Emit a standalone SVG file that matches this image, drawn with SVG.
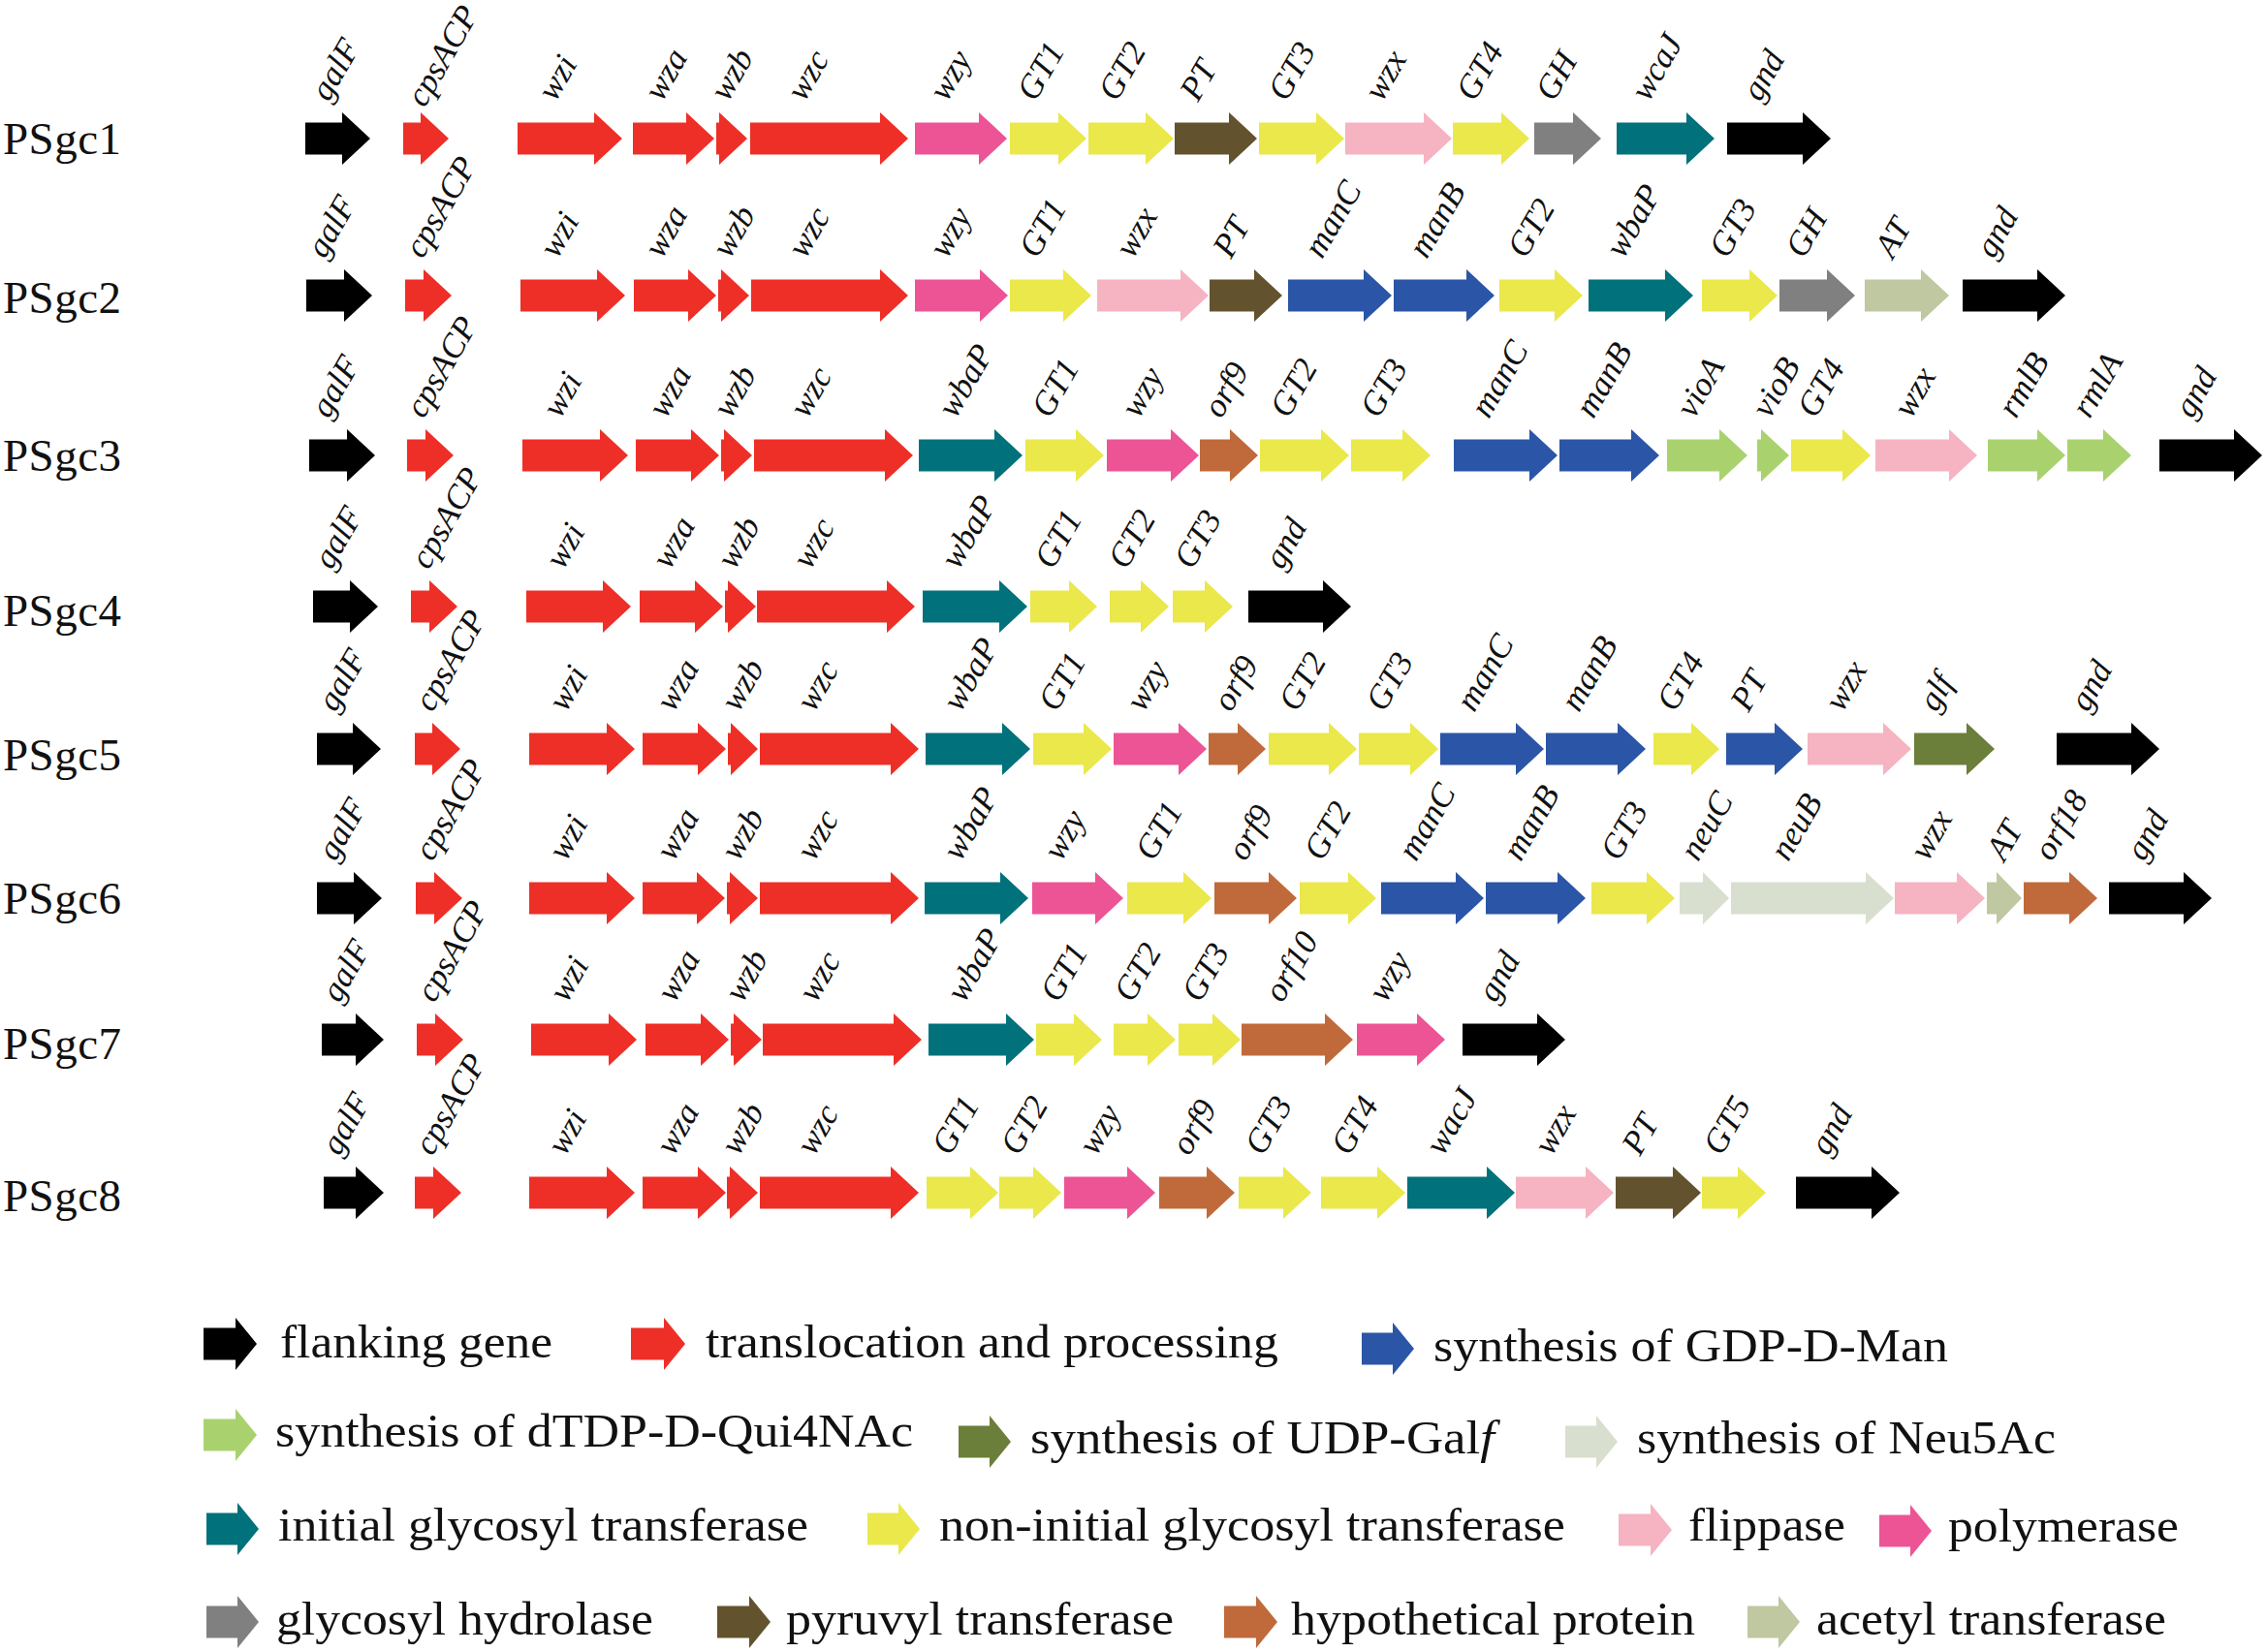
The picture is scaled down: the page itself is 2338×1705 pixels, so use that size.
<svg xmlns="http://www.w3.org/2000/svg" width="2338" height="1705" viewBox="0 0 2338 1705">
<style>
text{font-family:"Liberation Serif","Times New Roman",serif;fill:#111}
.gl{font-style:italic;font-size:35px}
.rl{font-size:47px}
.lg{font-size:48px}
.fl{fill:#000}.tr{fill:#EE2F27}.gdp{fill:#2B55A6}.qui{fill:#A9D26F}.galf{fill:#6B7E3A}.neu{fill:#D9DFCE}
.igt{fill:#01717B}.ngt{fill:#EAE84B}.flp{fill:#F6B3C1}.pol{fill:#EC5496}.gh{fill:#808080}.pt{fill:#62532E}.hyp{fill:#C06A3B}.at{fill:#BFC8A0}
</style>
<rect width="2338" height="1705" fill="#fff"/>

<g id="PSgc1" transform="translate(0,143)">
<text class="rl" x="3" y="16" textLength="122">PSgc1</text>
<g id="r1-galF"><path class="fl" d="M315 -16.5H353V-27L382 0L353 27V16.5H315Z"/><text class="gl" y="14" transform="translate(327,-44) rotate(-60)">galF</text></g>
<g id="r1-cpsACP"><path class="tr" d="M416 -16.5H434V-27L463 0L434 27V16.5H416Z"/><text class="gl" y="14" transform="translate(426,-38) rotate(-60)">cpsACP</text></g>
<g id="r1-wzi"><path class="tr" d="M534 -16.5H613V-27L642 0L613 27V16.5H534Z"/><text class="gl" y="14" transform="translate(561,-44) rotate(-60)">wzi</text></g>
<g id="r1-wza"><path class="tr" d="M653 -16.5H708V-27L737 0L708 27V16.5H653Z"/><text class="gl" y="14" transform="translate(671,-44) rotate(-60)">wza</text></g>
<g id="r1-wzb"><path class="tr" d="M739 -16.5H742V-27L771 0L742 27V16.5H739Z"/><text class="gl" y="14" transform="translate(739,-44) rotate(-60)">wzb</text></g>
<g id="r1-wzc"><path class="tr" d="M774 -16.5H908V-27L937 0L908 27V16.5H774Z"/><text class="gl" y="14" transform="translate(818,-44) rotate(-60)">wzc</text></g>
<g id="r1-wzy"><path class="pol" d="M944 -16.5H1010V-27L1039 0L1010 27V16.5H944Z"/><text class="gl" y="14" transform="translate(965,-44) rotate(-60)">wzy</text></g>
<g id="r1-GT1"><path class="ngt" d="M1042 -16.5H1092V-27L1121 0L1092 27V16.5H1042Z"/><text class="gl" y="14" transform="translate(1056,-44) rotate(-60)">GT1</text></g>
<g id="r1-GT2"><path class="ngt" d="M1123 -16.5H1182V-27L1211 0L1182 27V16.5H1123Z"/><text class="gl" y="14" transform="translate(1140,-44) rotate(-60)">GT2</text></g>
<g id="r1-PT"><path class="pt" d="M1212 -16.5H1268V-27L1297 0L1268 27V16.5H1212Z"/><text class="gl" y="14" transform="translate(1224,-44) rotate(-60)">PT</text></g>
<g id="r1-GT3"><path class="ngt" d="M1299 -16.5H1358V-27L1387 0L1358 27V16.5H1299Z"/><text class="gl" y="14" transform="translate(1315,-44) rotate(-60)">GT3</text></g>
<g id="r1-wzx"><path class="flp" d="M1388 -16.5H1469V-27L1498 0L1469 27V16.5H1388Z"/><text class="gl" y="14" transform="translate(1414,-44) rotate(-60)">wzx</text></g>
<g id="r1-GT4"><path class="ngt" d="M1499 -16.5H1549V-27L1578 0L1549 27V16.5H1499Z"/><text class="gl" y="14" transform="translate(1509,-44) rotate(-60)">GT4</text></g>
<g id="r1-GH"><path class="gh" d="M1583 -16.5H1623V-27L1652 0L1623 27V16.5H1583Z"/><text class="gl" y="14" transform="translate(1591,-44) rotate(-60)">GH</text></g>
<g id="r1-wcaJ"><path class="igt" d="M1668 -16.5H1740V-27L1769 0L1740 27V16.5H1668Z"/><text class="gl" y="14" transform="translate(1689,-44) rotate(-60)">wcaJ</text></g>
<g id="r1-gnd"><path class="fl" d="M1782 -16.5H1860V-27L1889 0L1860 27V16.5H1782Z"/><text class="gl" y="14" transform="translate(1804,-44) rotate(-60)">gnd</text></g>
</g>

<g id="PSgc2" transform="translate(0,305)">
<text class="rl" x="3" y="18" textLength="122">PSgc2</text>
<g id="r2-galF"><path class="fl" d="M316 -16.5H355V-27L384 0L355 27V16.5H316Z"/><text class="gl" y="14" transform="translate(323,-44) rotate(-60)">galF</text></g>
<g id="r2-cpsACP"><path class="tr" d="M418 -16.5H437V-27L466 0L437 27V16.5H418Z"/><text class="gl" y="14" transform="translate(424,-44) rotate(-60)">cpsACP</text></g>
<g id="r2-wzi"><path class="tr" d="M537 -16.5H616V-27L645 0L616 27V16.5H537Z"/><text class="gl" y="14" transform="translate(563,-44) rotate(-60)">wzi</text></g>
<g id="r2-wza"><path class="tr" d="M654 -16.5H710V-27L739 0L710 27V16.5H654Z"/><text class="gl" y="14" transform="translate(671,-44) rotate(-60)">wza</text></g>
<g id="r2-wzb"><path class="tr" d="M741 -16.5H744V-27L773 0L744 27V16.5H741Z"/><text class="gl" y="14" transform="translate(741,-44) rotate(-60)">wzb</text></g>
<g id="r2-wzc"><path class="tr" d="M775 -16.5H908V-27L937 0L908 27V16.5H775Z"/><text class="gl" y="14" transform="translate(819,-44) rotate(-60)">wzc</text></g>
<g id="r2-wzy"><path class="pol" d="M944 -16.5H1011V-27L1040 0L1011 27V16.5H944Z"/><text class="gl" y="14" transform="translate(965,-44) rotate(-60)">wzy</text></g>
<g id="r2-GT1"><path class="ngt" d="M1042 -16.5H1097V-27L1126 0L1097 27V16.5H1042Z"/><text class="gl" y="14" transform="translate(1058,-44) rotate(-60)">GT1</text></g>
<g id="r2-wzx"><path class="flp" d="M1132 -16.5H1218V-27L1247 0L1218 27V16.5H1132Z"/><text class="gl" y="14" transform="translate(1157,-44) rotate(-60)">wzx</text></g>
<g id="r2-PT"><path class="pt" d="M1248 -16.5H1294V-27L1323 0L1294 27V16.5H1248Z"/><text class="gl" y="14" transform="translate(1258,-44) rotate(-60)">PT</text></g>
<g id="r2-manC"><path class="gdp" d="M1329 -16.5H1407V-27L1436 0L1407 27V16.5H1329Z"/><text class="gl" y="14" transform="translate(1352,-44) rotate(-60)">manC</text></g>
<g id="r2-manB"><path class="gdp" d="M1438 -16.5H1513V-27L1542 0L1513 27V16.5H1438Z"/><text class="gl" y="14" transform="translate(1460,-44) rotate(-60)">manB</text></g>
<g id="r2-GT2"><path class="ngt" d="M1547 -16.5H1604V-27L1633 0L1604 27V16.5H1547Z"/><text class="gl" y="14" transform="translate(1562,-44) rotate(-60)">GT2</text></g>
<g id="r2-wbaP"><path class="igt" d="M1639 -16.5H1718V-27L1747 0L1718 27V16.5H1639Z"/><text class="gl" y="14" transform="translate(1663,-44) rotate(-60)">wbaP</text></g>
<g id="r2-GT3"><path class="ngt" d="M1756 -16.5H1805V-27L1834 0L1805 27V16.5H1756Z"/><text class="gl" y="14" transform="translate(1770,-44) rotate(-60)">GT3</text></g>
<g id="r2-GH"><path class="gh" d="M1836 -16.5H1885V-27L1914 0L1885 27V16.5H1836Z"/><text class="gl" y="14" transform="translate(1849,-44) rotate(-60)">GH</text></g>
<g id="r2-AT"><path class="at" d="M1924 -16.5H1982V-27L2011 0L1982 27V16.5H1924Z"/><text class="gl" y="14" transform="translate(1941,-44) rotate(-60)">AT</text></g>
<g id="r2-gnd"><path class="fl" d="M2025 -16.5H2102V-27L2131 0L2102 27V16.5H2025Z"/><text class="gl" y="14" transform="translate(2045,-44) rotate(-60)">gnd</text></g>
</g>

<g id="PSgc3" transform="translate(0,470)">
<text class="rl" x="3" y="16" textLength="122">PSgc3</text>
<g id="r3-galF"><path class="fl" d="M319 -16.5H358V-27L387 0L358 27V16.5H319Z"/><text class="gl" y="14" transform="translate(327,-44) rotate(-60)">galF</text></g>
<g id="r3-cpsACP"><path class="tr" d="M420 -16.5H439V-27L468 0L439 27V16.5H420Z"/><text class="gl" y="14" transform="translate(425,-44) rotate(-60)">cpsACP</text></g>
<g id="r3-wzi"><path class="tr" d="M539 -16.5H619V-27L648 0L619 27V16.5H539Z"/><text class="gl" y="14" transform="translate(566,-44) rotate(-60)">wzi</text></g>
<g id="r3-wza"><path class="tr" d="M656 -16.5H713V-27L742 0L713 27V16.5H656Z"/><text class="gl" y="14" transform="translate(675,-44) rotate(-60)">wza</text></g>
<g id="r3-wzb"><path class="tr" d="M744 -16.5H747V-27L776 0L747 27V16.5H744Z"/><text class="gl" y="14" transform="translate(742,-44) rotate(-60)">wzb</text></g>
<g id="r3-wzc"><path class="tr" d="M778 -16.5H913V-27L942 0L913 27V16.5H778Z"/><text class="gl" y="14" transform="translate(821,-44) rotate(-60)">wzc</text></g>
<g id="r3-wbaP"><path class="igt" d="M948 -16.5H1026V-27L1055 0L1026 27V16.5H948Z"/><text class="gl" y="14" transform="translate(974,-44) rotate(-60)">wbaP</text></g>
<g id="r3-GT1"><path class="ngt" d="M1058 -16.5H1110V-27L1139 0L1110 27V16.5H1058Z"/><text class="gl" y="14" transform="translate(1071,-44) rotate(-60)">GT1</text></g>
<g id="r3-wzy"><path class="pol" d="M1142 -16.5H1208V-27L1237 0L1208 27V16.5H1142Z"/><text class="gl" y="14" transform="translate(1163,-44) rotate(-60)">wzy</text></g>
<g id="r3-orf9"><path class="hyp" d="M1238 -16.5H1269V-27L1298 0L1269 27V16.5H1238Z"/><text class="gl" y="14" transform="translate(1248,-44) rotate(-60)">orf9</text></g>
<g id="r3-GT2"><path class="ngt" d="M1300 -16.5H1363V-27L1392 0L1363 27V16.5H1300Z"/><text class="gl" y="14" transform="translate(1317,-44) rotate(-60)">GT2</text></g>
<g id="r3-GT3"><path class="ngt" d="M1394 -16.5H1447V-27L1476 0L1447 27V16.5H1394Z"/><text class="gl" y="14" transform="translate(1410,-44) rotate(-60)">GT3</text></g>
<g id="r3-manC"><path class="gdp" d="M1500 -16.5H1578V-27L1607 0L1578 27V16.5H1500Z"/><text class="gl" y="14" transform="translate(1524,-44) rotate(-60)">manC</text></g>
<g id="r3-manB"><path class="gdp" d="M1609 -16.5H1683V-27L1712 0L1683 27V16.5H1609Z"/><text class="gl" y="14" transform="translate(1632,-44) rotate(-60)">manB</text></g>
<g id="r3-vioA"><path class="qui" d="M1720 -16.5H1774V-27L1803 0L1774 27V16.5H1720Z"/><text class="gl" y="14" transform="translate(1736,-44) rotate(-60)">vioA</text></g>
<g id="r3-vioB"><path class="qui" d="M1813 -16.5H1817V-27L1846 0L1817 27V16.5H1813Z"/><text class="gl" y="14" transform="translate(1814,-44) rotate(-60)">vioB</text></g>
<g id="r3-GT4"><path class="ngt" d="M1848 -16.5H1901V-27L1930 0L1901 27V16.5H1848Z"/><text class="gl" y="14" transform="translate(1861,-44) rotate(-60)">GT4</text></g>
<g id="r3-wzx"><path class="flp" d="M1935 -16.5H2011V-27L2040 0L2011 27V16.5H1935Z"/><text class="gl" y="14" transform="translate(1960,-44) rotate(-60)">wzx</text></g>
<g id="r3-rmlB"><path class="qui" d="M2051 -16.5H2102V-27L2131 0L2102 27V16.5H2051Z"/><text class="gl" y="14" transform="translate(2068,-44) rotate(-60)">rmlB</text></g>
<g id="r3-rmlA"><path class="qui" d="M2133 -16.5H2170V-27L2199 0L2170 27V16.5H2133Z"/><text class="gl" y="14" transform="translate(2144,-44) rotate(-60)">rmlA</text></g>
<g id="r3-gnd"><path class="fl" d="M2228 -16.5H2305V-27L2334 0L2305 27V16.5H2228Z"/><text class="gl" y="14" transform="translate(2250,-44) rotate(-60)">gnd</text></g>
</g>

<g id="PSgc4" transform="translate(0,626)">
<text class="rl" x="3" y="20" textLength="122">PSgc4</text>
<g id="r4-galF"><path class="fl" d="M323 -16.5H361V-27L390 0L361 27V16.5H323Z"/><text class="gl" y="14" transform="translate(330,-44) rotate(-60)">galF</text></g>
<g id="r4-cpsACP"><path class="tr" d="M424 -16.5H443V-27L472 0L443 27V16.5H424Z"/><text class="gl" y="14" transform="translate(430,-44) rotate(-60)">cpsACP</text></g>
<g id="r4-wzi"><path class="tr" d="M543 -16.5H622V-27L651 0L622 27V16.5H543Z"/><text class="gl" y="14" transform="translate(569,-44) rotate(-60)">wzi</text></g>
<g id="r4-wza"><path class="tr" d="M660 -16.5H717V-27L746 0L717 27V16.5H660Z"/><text class="gl" y="14" transform="translate(679,-44) rotate(-60)">wza</text></g>
<g id="r4-wzb"><path class="tr" d="M748 -16.5H751V-27L780 0L751 27V16.5H748Z"/><text class="gl" y="14" transform="translate(746,-44) rotate(-60)">wzb</text></g>
<g id="r4-wzc"><path class="tr" d="M781 -16.5H915V-27L944 0L915 27V16.5H781Z"/><text class="gl" y="14" transform="translate(824,-44) rotate(-60)">wzc</text></g>
<g id="r4-wbaP"><path class="igt" d="M952 -16.5H1031V-27L1060 0L1031 27V16.5H952Z"/><text class="gl" y="14" transform="translate(977,-44) rotate(-60)">wbaP</text></g>
<g id="r4-GT1"><path class="ngt" d="M1063 -16.5H1103V-27L1132 0L1103 27V16.5H1063Z"/><text class="gl" y="14" transform="translate(1074,-44) rotate(-60)">GT1</text></g>
<g id="r4-GT2"><path class="ngt" d="M1145 -16.5H1177V-27L1206 0L1177 27V16.5H1145Z"/><text class="gl" y="14" transform="translate(1150,-44) rotate(-60)">GT2</text></g>
<g id="r4-GT3"><path class="ngt" d="M1210 -16.5H1243V-27L1272 0L1243 27V16.5H1210Z"/><text class="gl" y="14" transform="translate(1218,-44) rotate(-60)">GT3</text></g>
<g id="r4-gnd"><path class="fl" d="M1288 -16.5H1365V-27L1394 0L1365 27V16.5H1288Z"/><text class="gl" y="14" transform="translate(1311,-44) rotate(-60)">gnd</text></g>
</g>

<g id="PSgc5" transform="translate(0,773)">
<text class="rl" x="3" y="22" textLength="122">PSgc5</text>
<g id="r5-galF"><path class="fl" d="M327 -16.5H364V-27L393 0L364 27V16.5H327Z"/><text class="gl" y="14" transform="translate(334,-44) rotate(-60)">galF</text></g>
<g id="r5-cpsACP"><path class="tr" d="M428 -16.5H446V-27L475 0L446 27V16.5H428Z"/><text class="gl" y="14" transform="translate(434,-44) rotate(-60)">cpsACP</text></g>
<g id="r5-wzi"><path class="tr" d="M546 -16.5H626V-27L655 0L626 27V16.5H546Z"/><text class="gl" y="14" transform="translate(572,-44) rotate(-60)">wzi</text></g>
<g id="r5-wza"><path class="tr" d="M663 -16.5H720V-27L749 0L720 27V16.5H663Z"/><text class="gl" y="14" transform="translate(683,-44) rotate(-60)">wza</text></g>
<g id="r5-wzb"><path class="tr" d="M751 -16.5H754V-27L782 0L754 27V16.5H751Z"/><text class="gl" y="14" transform="translate(750,-44) rotate(-60)">wzb</text></g>
<g id="r5-wzc"><path class="tr" d="M784 -16.5H919V-27L948 0L919 27V16.5H784Z"/><text class="gl" y="14" transform="translate(828,-44) rotate(-60)">wzc</text></g>
<g id="r5-wbaP"><path class="igt" d="M955 -16.5H1034V-27L1063 0L1034 27V16.5H955Z"/><text class="gl" y="14" transform="translate(979,-44) rotate(-60)">wbaP</text></g>
<g id="r5-GT1"><path class="ngt" d="M1066 -16.5H1118V-27L1147 0L1118 27V16.5H1066Z"/><text class="gl" y="14" transform="translate(1078,-44) rotate(-60)">GT1</text></g>
<g id="r5-wzy"><path class="pol" d="M1149 -16.5H1216V-27L1245 0L1216 27V16.5H1149Z"/><text class="gl" y="14" transform="translate(1168,-44) rotate(-60)">wzy</text></g>
<g id="r5-orf9"><path class="hyp" d="M1247 -16.5H1277V-27L1306 0L1277 27V16.5H1247Z"/><text class="gl" y="14" transform="translate(1258,-44) rotate(-60)">orf9</text></g>
<g id="r5-GT2"><path class="ngt" d="M1309 -16.5H1371V-27L1400 0L1371 27V16.5H1309Z"/><text class="gl" y="14" transform="translate(1326,-44) rotate(-60)">GT2</text></g>
<g id="r5-GT3"><path class="ngt" d="M1402 -16.5H1455V-27L1484 0L1455 27V16.5H1402Z"/><text class="gl" y="14" transform="translate(1416,-44) rotate(-60)">GT3</text></g>
<g id="r5-manC"><path class="gdp" d="M1486 -16.5H1564V-27L1593 0L1564 27V16.5H1486Z"/><text class="gl" y="14" transform="translate(1509,-44) rotate(-60)">manC</text></g>
<g id="r5-manB"><path class="gdp" d="M1595 -16.5H1669V-27L1698 0L1669 27V16.5H1595Z"/><text class="gl" y="14" transform="translate(1617,-44) rotate(-60)">manB</text></g>
<g id="r5-GT4"><path class="ngt" d="M1706 -16.5H1745V-27L1774 0L1745 27V16.5H1706Z"/><text class="gl" y="14" transform="translate(1716,-44) rotate(-60)">GT4</text></g>
<g id="r5-PT"><path class="gdp" d="M1781 -16.5H1831V-27L1860 0L1831 27V16.5H1781Z"/><text class="gl" y="14" transform="translate(1792,-44) rotate(-60)">PT</text></g>
<g id="r5-wzx"><path class="flp" d="M1865 -16.5H1943V-27L1972 0L1943 27V16.5H1865Z"/><text class="gl" y="14" transform="translate(1889,-44) rotate(-60)">wzx</text></g>
<g id="r5-glf"><path class="galf" d="M1975 -16.5H2029V-27L2058 0L2029 27V16.5H1975Z"/><text class="gl" y="14" transform="translate(1986,-44) rotate(-60)">glf</text></g>
<g id="r5-gnd"><path class="fl" d="M2122 -16.5H2199V-27L2228 0L2199 27V16.5H2122Z"/><text class="gl" y="14" transform="translate(2142,-44) rotate(-60)">gnd</text></g>
</g>

<g id="PSgc6" transform="translate(0,927)">
<text class="rl" x="3" y="16" textLength="122">PSgc6</text>
<g id="r6-galF"><path class="fl" d="M327 -16.5H365V-27L394 0L365 27V16.5H327Z"/><text class="gl" y="14" transform="translate(334,-44) rotate(-60)">galF</text></g>
<g id="r6-cpsACP"><path class="tr" d="M429 -16.5H448V-27L477 0L448 27V16.5H429Z"/><text class="gl" y="14" transform="translate(434,-44) rotate(-60)">cpsACP</text></g>
<g id="r6-wzi"><path class="tr" d="M546 -16.5H626V-27L655 0L626 27V16.5H546Z"/><text class="gl" y="14" transform="translate(572,-44) rotate(-60)">wzi</text></g>
<g id="r6-wza"><path class="tr" d="M663 -16.5H719V-27L748 0L719 27V16.5H663Z"/><text class="gl" y="14" transform="translate(683,-44) rotate(-60)">wza</text></g>
<g id="r6-wzb"><path class="tr" d="M750 -16.5H753V-27L782 0L753 27V16.5H750Z"/><text class="gl" y="14" transform="translate(750,-44) rotate(-60)">wzb</text></g>
<g id="r6-wzc"><path class="tr" d="M784 -16.5H919V-27L948 0L919 27V16.5H784Z"/><text class="gl" y="14" transform="translate(828,-44) rotate(-60)">wzc</text></g>
<g id="r6-wbaP"><path class="igt" d="M954 -16.5H1032V-27L1061 0L1032 27V16.5H954Z"/><text class="gl" y="14" transform="translate(979,-44) rotate(-60)">wbaP</text></g>
<g id="r6-wzy"><path class="pol" d="M1065 -16.5H1130V-27L1159 0L1130 27V16.5H1065Z"/><text class="gl" y="14" transform="translate(1083,-44) rotate(-60)">wzy</text></g>
<g id="r6-GT1"><path class="ngt" d="M1163 -16.5H1221V-27L1250 0L1221 27V16.5H1163Z"/><text class="gl" y="14" transform="translate(1178,-44) rotate(-60)">GT1</text></g>
<g id="r6-orf9"><path class="hyp" d="M1253 -16.5H1309V-27L1338 0L1309 27V16.5H1253Z"/><text class="gl" y="14" transform="translate(1273,-44) rotate(-60)">orf9</text></g>
<g id="r6-GT2"><path class="ngt" d="M1341 -16.5H1391V-27L1420 0L1391 27V16.5H1341Z"/><text class="gl" y="14" transform="translate(1352,-44) rotate(-60)">GT2</text></g>
<g id="r6-manC"><path class="gdp" d="M1425 -16.5H1502V-27L1531 0L1502 27V16.5H1425Z"/><text class="gl" y="14" transform="translate(1449,-44) rotate(-60)">manC</text></g>
<g id="r6-manB"><path class="gdp" d="M1533 -16.5H1607V-27L1636 0L1607 27V16.5H1533Z"/><text class="gl" y="14" transform="translate(1557,-44) rotate(-60)">manB</text></g>
<g id="r6-GT3"><path class="ngt" d="M1642 -16.5H1699V-27L1728 0L1699 27V16.5H1642Z"/><text class="gl" y="14" transform="translate(1658,-44) rotate(-60)">GT3</text></g>
<g id="r6-neuC"><path class="neu" d="M1733 -16.5H1757V-27L1784 0L1757 27V16.5H1733Z"/><text class="gl" y="14" transform="translate(1740,-44) rotate(-60)">neuC</text></g>
<g id="r6-neuB"><path class="neu" d="M1786 -16.5H1925V-27L1954 0L1925 27V16.5H1786Z"/><text class="gl" y="14" transform="translate(1833,-44) rotate(-60)">neuB</text></g>
<g id="r6-wzx"><path class="flp" d="M1955 -16.5H2019V-27L2048 0L2019 27V16.5H1955Z"/><text class="gl" y="14" transform="translate(1977,-44) rotate(-60)">wzx</text></g>
<g id="r6-AT"><path class="at" d="M2050 -16.5H2060V-27L2086 0L2060 27V16.5H2050Z"/><text class="gl" y="14" transform="translate(2056,-44) rotate(-60)">AT</text></g>
<g id="r6-orf18"><path class="hyp" d="M2088 -16.5H2135V-27L2164 0L2135 27V16.5H2088Z"/><text class="gl" y="14" transform="translate(2105,-44) rotate(-60)">orf18</text></g>
<g id="r6-gnd"><path class="fl" d="M2176 -16.5H2253V-27L2282 0L2253 27V16.5H2176Z"/><text class="gl" y="14" transform="translate(2200,-44) rotate(-60)">gnd</text></g>
</g>

<g id="PSgc7" transform="translate(0,1073)">
<text class="rl" x="3" y="20" textLength="122">PSgc7</text>
<g id="r7-galF"><path class="fl" d="M332 -16.5H367V-27L396 0L367 27V16.5H332Z"/><text class="gl" y="14" transform="translate(338,-44) rotate(-60)">galF</text></g>
<g id="r7-cpsACP"><path class="tr" d="M430 -16.5H449V-27L478 0L449 27V16.5H430Z"/><text class="gl" y="14" transform="translate(436,-44) rotate(-60)">cpsACP</text></g>
<g id="r7-wzi"><path class="tr" d="M548 -16.5H628V-27L657 0L628 27V16.5H548Z"/><text class="gl" y="14" transform="translate(573,-44) rotate(-60)">wzi</text></g>
<g id="r7-wza"><path class="tr" d="M666 -16.5H723V-27L752 0L723 27V16.5H666Z"/><text class="gl" y="14" transform="translate(684,-44) rotate(-60)">wza</text></g>
<g id="r7-wzb"><path class="tr" d="M754 -16.5H757V-27L786 0L757 27V16.5H754Z"/><text class="gl" y="14" transform="translate(754,-44) rotate(-60)">wzb</text></g>
<g id="r7-wzc"><path class="tr" d="M787 -16.5H922V-27L951 0L922 27V16.5H787Z"/><text class="gl" y="14" transform="translate(830,-44) rotate(-60)">wzc</text></g>
<g id="r7-wbaP"><path class="igt" d="M958 -16.5H1038V-27L1067 0L1038 27V16.5H958Z"/><text class="gl" y="14" transform="translate(983,-44) rotate(-60)">wbaP</text></g>
<g id="r7-GT1"><path class="ngt" d="M1069 -16.5H1108V-27L1137 0L1108 27V16.5H1069Z"/><text class="gl" y="14" transform="translate(1080,-44) rotate(-60)">GT1</text></g>
<g id="r7-GT2"><path class="ngt" d="M1149 -16.5H1184V-27L1213 0L1184 27V16.5H1149Z"/><text class="gl" y="14" transform="translate(1156,-44) rotate(-60)">GT2</text></g>
<g id="r7-GT3"><path class="ngt" d="M1216 -16.5H1251V-27L1280 0L1251 27V16.5H1216Z"/><text class="gl" y="14" transform="translate(1226,-44) rotate(-60)">GT3</text></g>
<g id="r7-orf10"><path class="hyp" d="M1281 -16.5H1367V-27L1396 0L1367 27V16.5H1281Z"/><text class="gl" y="14" transform="translate(1311,-44) rotate(-60)">orf10</text></g>
<g id="r7-wzy"><path class="pol" d="M1400 -16.5H1462V-27L1491 0L1462 27V16.5H1400Z"/><text class="gl" y="14" transform="translate(1418,-44) rotate(-60)">wzy</text></g>
<g id="r7-gnd"><path class="fl" d="M1509 -16.5H1586V-27L1615 0L1586 27V16.5H1509Z"/><text class="gl" y="14" transform="translate(1531,-44) rotate(-60)">gnd</text></g>
</g>

<g id="PSgc8" transform="translate(0,1231)">
<text class="rl" x="3" y="19" textLength="122">PSgc8</text>
<g id="r8-galF"><path class="fl" d="M334 -16.5H367V-27L396 0L367 27V16.5H334Z"/><text class="gl" y="14" transform="translate(338,-44) rotate(-60)">galF</text></g>
<g id="r8-cpsACP"><path class="tr" d="M428 -16.5H447V-27L476 0L447 27V16.5H428Z"/><text class="gl" y="14" transform="translate(434,-44) rotate(-60)">cpsACP</text></g>
<g id="r8-wzi"><path class="tr" d="M546 -16.5H626V-27L655 0L626 27V16.5H546Z"/><text class="gl" y="14" transform="translate(571,-44) rotate(-60)">wzi</text></g>
<g id="r8-wza"><path class="tr" d="M663 -16.5H720V-27L749 0L720 27V16.5H663Z"/><text class="gl" y="14" transform="translate(683,-44) rotate(-60)">wza</text></g>
<g id="r8-wzb"><path class="tr" d="M750 -16.5H753V-27L782 0L753 27V16.5H750Z"/><text class="gl" y="14" transform="translate(750,-44) rotate(-60)">wzb</text></g>
<g id="r8-wzc"><path class="tr" d="M784 -16.5H919V-27L948 0L919 27V16.5H784Z"/><text class="gl" y="14" transform="translate(828,-44) rotate(-60)">wzc</text></g>
<g id="r8-GT1"><path class="ngt" d="M956 -16.5H1001V-27L1030 0L1001 27V16.5H956Z"/><text class="gl" y="14" transform="translate(968,-44) rotate(-60)">GT1</text></g>
<g id="r8-GT2"><path class="ngt" d="M1031 -16.5H1066V-27L1095 0L1066 27V16.5H1031Z"/><text class="gl" y="14" transform="translate(1039,-44) rotate(-60)">GT2</text></g>
<g id="r8-wzy"><path class="pol" d="M1098 -16.5H1163V-27L1192 0L1163 27V16.5H1098Z"/><text class="gl" y="14" transform="translate(1119,-44) rotate(-60)">wzy</text></g>
<g id="r8-orf9"><path class="hyp" d="M1196 -16.5H1245V-27L1274 0L1245 27V16.5H1196Z"/><text class="gl" y="14" transform="translate(1215,-44) rotate(-60)">orf9</text></g>
<g id="r8-GT3"><path class="ngt" d="M1278 -16.5H1324V-27L1353 0L1324 27V16.5H1278Z"/><text class="gl" y="14" transform="translate(1291,-44) rotate(-60)">GT3</text></g>
<g id="r8-GT4"><path class="ngt" d="M1363 -16.5H1421V-27L1450 0L1421 27V16.5H1363Z"/><text class="gl" y="14" transform="translate(1380,-44) rotate(-60)">GT4</text></g>
<g id="r8-wacJ"><path class="igt" d="M1452 -16.5H1534V-27L1563 0L1534 27V16.5H1452Z"/><text class="gl" y="14" transform="translate(1477,-44) rotate(-60)">wacJ</text></g>
<g id="r8-wzx"><path class="flp" d="M1564 -16.5H1636V-27L1665 0L1636 27V16.5H1564Z"/><text class="gl" y="14" transform="translate(1589,-44) rotate(-60)">wzx</text></g>
<g id="r8-PT"><path class="pt" d="M1667 -16.5H1726V-27L1755 0L1726 27V16.5H1667Z"/><text class="gl" y="14" transform="translate(1680,-44) rotate(-60)">PT</text></g>
<g id="r8-GT5"><path class="ngt" d="M1756 -16.5H1793V-27L1822 0L1793 27V16.5H1756Z"/><text class="gl" y="14" transform="translate(1764,-44) rotate(-60)">GT5</text></g>
<g id="r8-gnd"><path class="fl" d="M1853 -16.5H1931V-27L1960 0L1931 27V16.5H1853Z"/><text class="gl" y="14" transform="translate(1874,-44) rotate(-60)">gnd</text></g>
</g>

<g id="legend">
<g id="lg-flank"><path class="fl" d="M210 1370.5H243V1360L265 1387L243 1414V1403.5H210Z"/><text class="lg" x="289" y="1401" textLength="281" lengthAdjust="spacingAndGlyphs">flanking gene</text></g>
<g id="lg-trans"><path class="tr" d="M651 1370.5H685V1360L707 1387L685 1414V1403.5H651Z"/><text class="lg" x="728" y="1401" textLength="591" lengthAdjust="spacingAndGlyphs">translocation and processing</text></g>
<g id="lg-gdp"><path class="gdp" d="M1405 1375.5H1437V1365L1459 1392L1437 1419V1408.5H1405Z"/><text class="lg" x="1479" y="1405" textLength="531" lengthAdjust="spacingAndGlyphs">synthesis of GDP-D-Man</text></g>
<g id="lg-qui"><path class="qui" d="M210 1464.5H243V1454L265 1481L243 1508V1497.5H210Z"/><text class="lg" x="284" y="1493" textLength="658" lengthAdjust="spacingAndGlyphs">synthesis of dTDP-D-Qui4NAc</text></g>
<g id="lg-galf"><path class="galf" d="M989 1471.5H1021V1461L1043 1488L1021 1515V1504.5H989Z"/><text class="lg" x="1063" y="1500" textLength="479" lengthAdjust="spacingAndGlyphs">synthesis of UDP-Gal<tspan font-style="italic">f</tspan></text></g>
<g id="lg-neu"><path class="neu" d="M1615 1471.5H1647V1461L1669 1488L1647 1515V1504.5H1615Z"/><text class="lg" x="1689" y="1500" textLength="432" lengthAdjust="spacingAndGlyphs">synthesis of Neu5Ac</text></g>
<g id="lg-igt"><path class="igt" d="M213 1561.5H245V1551L267 1578L245 1605V1594.5H213Z"/><text class="lg" x="287" y="1590" textLength="547" lengthAdjust="spacingAndGlyphs">initial glycosyl transferase</text></g>
<g id="lg-ngt"><path class="ngt" d="M895 1561.5H927V1551L949 1578L927 1605V1594.5H895Z"/><text class="lg" x="969" y="1590" textLength="646" lengthAdjust="spacingAndGlyphs">non-initial glycosyl transferase</text></g>
<g id="lg-flp"><path class="flp" d="M1670 1562.5H1703V1552L1725 1579L1703 1606V1595.5H1670Z"/><text class="lg" x="1742" y="1590" textLength="162" lengthAdjust="spacingAndGlyphs">flippase</text></g>
<g id="lg-pol"><path class="pol" d="M1939 1563.5H1971V1553L1993 1580L1971 1607V1596.5H1939Z"/><text class="lg" x="2010" y="1591" textLength="238" lengthAdjust="spacingAndGlyphs">polymerase</text></g>
<g id="lg-gh"><path class="gh" d="M213 1657.5H245V1647L267 1674L245 1701V1690.5H213Z"/><text class="lg" x="285" y="1687" textLength="389" lengthAdjust="spacingAndGlyphs">glycosyl hydrolase</text></g>
<g id="lg-pt"><path class="pt" d="M740 1657.5H773V1647L795 1674L773 1701V1690.5H740Z"/><text class="lg" x="811" y="1687" textLength="400" lengthAdjust="spacingAndGlyphs">pyruvyl transferase</text></g>
<g id="lg-hyp"><path class="hyp" d="M1263 1657.5H1296V1647L1318 1674L1296 1701V1690.5H1263Z"/><text class="lg" x="1332" y="1687" textLength="417" lengthAdjust="spacingAndGlyphs">hypothetical protein</text></g>
<g id="lg-at"><path class="at" d="M1803 1657.5H1835V1647L1857 1674L1835 1701V1690.5H1803Z"/><text class="lg" x="1874" y="1687" textLength="361" lengthAdjust="spacingAndGlyphs">acetyl transferase</text></g>
</g>
</svg>
